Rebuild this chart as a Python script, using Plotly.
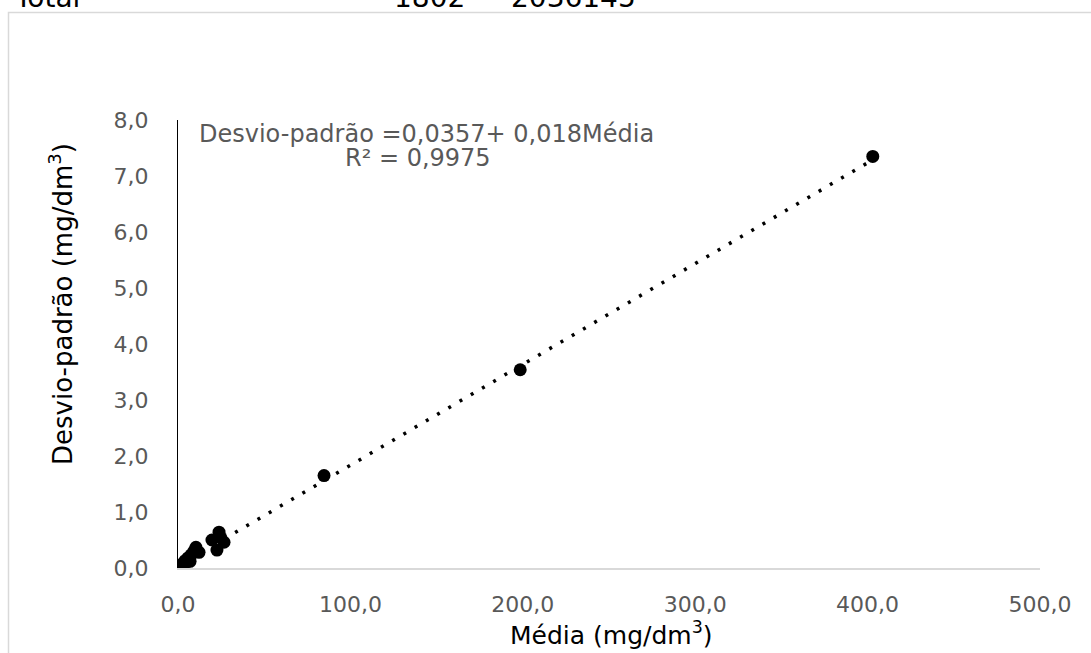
import plotly.graph_objects as go

# Data
media = [0.6, 2.3, 4.1, 5.2, 5.8, 7.0, 7.5, 9.3, 10.4, 12.2,
         19.7, 22.6, 23.8, 24.9, 26.7, 84.7, 198.5, 403.0]
desvio = [0.02, 0.07, 0.13, 0.11, 0.18, 0.12, 0.23, 0.30, 0.37, 0.28,
          0.50, 0.32, 0.64, 0.54, 0.46, 1.65, 3.54, 7.35]

# Trendline coefficients (from the equation shown on the chart)
intercept = 0.0357
slope = 0.018
trend_x = [min(media), max(media)]
trend_y = [intercept + slope * v for v in trend_x]

x_ticks = [0, 100, 200, 300, 400, 500]
x_tick_text = ["0,0", "100,0", "200,0", "300,0", "400,0", "500,0"]
y_ticks = [0, 1, 2, 3, 4, 5, 6, 7, 8]
y_tick_text = ["0,0", "1,0", "2,0", "3,0", "4,0", "5,0", "6,0", "7,0", "8,0"]

header_texts = ["Total", "1802", "2036145"]

W, H = 1091, 653
L, R, T, B = 178, 51, 120, 85
PW, PH = W - L - R, H - T - B

def px(xp):
    return (xp - L) / PW

def py(yp):
    return (H - B - yp) / PH

FONT = "DejaVu Sans"
GRAY = "#595959"

fig = go.Figure()
fig.add_trace(go.Scatter(
    x=trend_x, y=trend_y, mode="lines",
    line=dict(color="black", width=3.5, dash="3px,10px"),
    hoverinfo="skip", showlegend=False))
fig.add_trace(go.Scatter(
    x=media, y=desvio, mode="markers",
    marker=dict(color="black", size=13, line=dict(width=0)),
    showlegend=False))

annotations = [
    dict(text="Desvio-padrão =0,0357+ 0,018Média", x=px(197), y=py(134),
         xanchor="left", yanchor="middle", font=dict(size=24, color=GRAY)),
    dict(text="R² = 0,9975", x=px(418), y=py(158),
         xanchor="center", yanchor="middle", font=dict(size=24, color=GRAY)),
    dict(text="Desvio-padrão (mg/dm<sup>3</sup>)", x=px(61), y=py(304),
         textangle=-90, xanchor="center", yanchor="middle",
         font=dict(size=26, color="black")),
    dict(text="Média (mg/dm<sup>3</sup>)", x=px(611), y=py(633),
         xanchor="center", yanchor="middle", font=dict(size=25, color="black")),
]
for t, xp in zip(header_texts, [12, 392, 509]):
    annotations.append(dict(text=t, x=px(xp), y=py(-3), xanchor="left",
                            yanchor="middle", font=dict(size=28, color="black")))
for a in annotations:
    a.update(xref="paper", yref="paper", showarrow=False)

fig.update_layout(
    width=W, height=H,
    margin=dict(l=L, r=R, t=T, b=B, pad=0),
    paper_bgcolor="white", plot_bgcolor="white",
    font=dict(family=FONT, size=22, color=GRAY),
    annotations=annotations,
    shapes=[dict(type="rect", xref="paper", yref="paper",
                 x0=px(8.5), x1=px(1120), y0=py(12.5), y1=py(700),
                 line=dict(color="#d9d9d9", width=1.5), layer="below")],
    xaxis=dict(range=[0, 500], tickvals=x_ticks, ticktext=x_tick_text,
               showgrid=False, zeroline=False, showline=True,
               linecolor="#d9d9d9", linewidth=1.5, ticks="",
               ticklabelstandoff=16, tickfont=dict(size=22, color=GRAY)),
    yaxis=dict(range=[0, 8], tickvals=y_ticks, ticktext=y_tick_text,
               showgrid=False, zeroline=False, showline=True,
               linecolor="black", linewidth=1, ticks="",
               ticklabelstandoff=24, tickfont=dict(size=22, color=GRAY)),
)

fig.write_html("out.html")
